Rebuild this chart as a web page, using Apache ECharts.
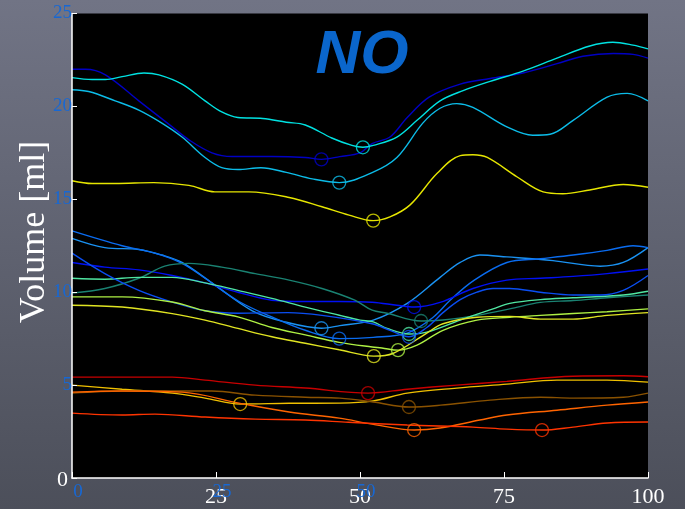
<!DOCTYPE html>
<html>
<head>
<meta charset="utf-8">
<script src="https://cdn.jsdelivr.net/npm/echarts@6/dist/echarts.min.js"></script>
<style>
  html, body { margin: 0; padding: 0; background: #5c5f6c; }
  #chart { width: 685px; height: 509px; }
</style>
</head>
<body>
<div id="chart"></div>
<script>
// Volume curves (ml) over the normalised cycle (0–100 %), one [x, y] list per curve.
const xTicks = [0, 25, 50, 75, 100];
const yTicks = [0, 5, 10, 15, 20, 25];

const upperDarkBlue = [[0,22.0],[2.3,22.0],[5.8,21.7],[11.6,20.3],[17.4,18.9],[20.3,18.2],[24.3,17.5],[27.8,17.3],[34.7,17.3],[40.5,17.25],[43.3,17.15],[46.5,17.3],[50,17.5],[52.1,18.0],[55.2,18.35],[58.2,19.4],[62,20.5],[67.4,21.2],[72.6,21.5],[78.3,21.8],[84.2,22.3],[88.7,22.7],[94,22.85],[97.4,22.8],[100,22.6]];
const upperCyan = [[0,21.55],[3.5,21.45],[5.8,21.45],[8.7,21.6],[12.5,21.8],[15.1,21.7],[19.1,21.2],[23.1,20.3],[26,19.7],[28.8,19.4],[33.1,19.35],[37.2,19.15],[40.5,19.0],[45.1,18.3],[48.6,17.9],[50.5,17.8],[52.3,17.9],[56.4,18.35],[59.9,19.25],[63.9,20.3],[67.9,20.85],[72.6,21.35],[78.3,21.9],[84.2,22.6],[89.9,23.25],[93.9,23.45],[97.4,23.3],[100,23.1]];
const upperSky = [[0,20.9],[2.9,20.8],[7.5,20.3],[11.6,19.8],[15.6,19.1],[19.1,18.35],[23.1,17.25],[26,16.7],[28.8,16.6],[32.8,16.7],[37.2,16.45],[41.7,16.1],[46.4,15.9],[52.2,16.45],[56.4,17.25],[60.9,19.1],[63.9,19.9],[66.8,20.15],[69.6,19.95],[75.5,18.9],[80,18.45],[83,18.5],[87,19.25],[92.9,20.5],[96.4,20.7],[100,20.3]];
const upperYellow = [[0,16.0],[3.5,15.85],[7.5,15.85],[14.2,15.9],[20.3,15.75],[24.8,15.4],[30.7,15.4],[37.7,15.1],[43.4,14.6],[48.1,14.15],[52.3,13.85],[55.2,14.05],[58.7,14.7],[63.4,16.4],[67.4,17.35],[69.6,17.4],[72.1,17.25],[77.3,16.2],[81.8,15.4],[85.2,15.3],[89.9,15.5],[95.7,15.8],[100,15.65]];

const midLightBlue = [[0,12.9],[5.7,12.4],[11.6,12.3],[15.6,12.0],[19.1,11.6],[24.3,10.5],[31.3,9.0],[37,8.4],[43.3,8.06],[46.5,8.2],[52.3,8.5],[58.2,9.4],[63.9,10.8],[67.4,11.6],[70.8,12.0],[75.5,11.9],[83.5,11.7],[91.7,11.4],[95.7,11.6],[100,12.4]];
const midAzure = [[0,13.3],[8.7,12.5],[14.4,12.1],[19.1,11.55],[23.1,10.75],[29,9.5],[34.7,8.67],[40.5,7.95],[46.4,7.5],[52.3,7.57],[58.2,7.8],[62.7,8.65],[65.6,9.55],[69.6,10.6],[75.5,11.6],[81.3,11.8],[87,12.0],[92.9,12.25],[97.4,12.5],[100,12.4]];
const midBlue = [[0,11.6],[5.7,11.35],[11.6,11.2],[17.4,10.9],[23.1,10.5],[28.8,10.0],[34.7,9.57],[40.5,9.5],[46.4,9.5],[52.1,9.46],[56.4,9.3],[59.4,9.2],[63.9,9.45],[69.6,10.2],[75.5,10.65],[81.3,10.75],[87,10.85],[92.9,11.0],[100,11.25]];
const midTeal = [[0,9.95],[5.7,10.2],[11.6,10.75],[16.1,11.4],[20.3,11.55],[26,11.35],[31.8,11.0],[37.7,10.65],[43.4,10.2],[49.1,9.57],[52.1,9.03],[54.7,8.87],[60.6,8.45],[64.4,8.5],[70.3,8.75],[76,9.1],[81.3,9.45],[87,9.55],[92.9,9.7],[100,9.85]];
const midMint = [[0,10.75],[5.7,10.7],[11.6,10.8],[17.4,10.8],[23.1,10.5],[28.8,10.1],[34.7,9.67],[40.5,9.2],[46.4,8.76],[50,8.5],[52.3,8.4],[54.7,8.05],[58.5,7.75],[61.6,7.85],[67.4,8.5],[73.1,9.1],[76,9.4],[81.3,9.6],[87,9.7],[95.7,9.85],[100,10.05]];
const midRoyal = [[0,12.1],[5.7,11.0],[11.6,10.1],[17.4,9.47],[23.1,9.0],[28.8,8.87],[37.5,8.9],[43.4,8.75],[52.1,8.3],[55.2,7.95],[58.5,7.6],[61.6,8.1],[64.4,8.9],[67.4,9.6],[70.3,10.0],[73.1,10.2],[76,10.2],[81.3,10.0],[87,9.85],[91.7,9.85],[95.7,10.1],[100,10.9]];
const midLime = [[0,9.75],[8.7,9.75],[17.4,9.47],[23.1,9.0],[28.8,8.67],[34.7,8.1],[40.5,7.7],[46.4,7.3],[52.1,7.05],[53.8,7.0],[56.6,6.88],[59.9,7.15],[64.4,7.95],[70.3,8.5],[76,8.65],[81.3,8.75],[87,8.85],[92.9,8.95],[100,9.1]];
const midYellow = [[0,9.3],[8.7,9.2],[17.4,8.85],[23.1,8.5],[28.8,8.05],[34.7,7.6],[40.5,7.25],[46.4,6.9],[52.4,6.56],[55.7,6.7],[61.6,7.8],[64.4,8.3],[70.3,8.65],[76,8.7],[81.3,8.55],[87,8.55],[92.9,8.75],[100,8.9]];

const lowRed = [[0,5.43],[8.7,5.43],[17.4,5.43],[23.1,5.27],[31.8,5.0],[40.5,4.84],[51.4,4.57],[58.2,4.78],[66.8,5.0],[75.5,5.2],[87,5.48],[95.7,5.5],[100,5.45]];
const lowGold = [[0,5.0],[8.7,4.78],[17.4,4.57],[23.1,4.3],[29.2,3.98],[37.7,4.02],[46.5,4.03],[52.3,4.15],[58.2,4.57],[66.8,4.84],[75.5,5.05],[84.2,5.27],[92.9,5.27],[100,5.16]];
const lowBrown = [[0,4.57],[8.7,4.68],[17.4,4.68],[24.3,4.68],[31.8,4.46],[40.5,4.35],[46.5,4.3],[52.3,4.09],[58.5,3.82],[64,3.92],[72.6,4.19],[81.3,4.35],[87,4.3],[95.7,4.35],[100,4.57]];
const lowOrange = [[0,4.62],[8.7,4.68],[19.1,4.62],[29,4.03],[37.7,3.55],[46.4,3.22],[52.1,2.9],[59.4,2.58],[63.9,2.69],[70.8,3.12],[75.5,3.39],[84.2,3.65],[92.9,3.92],[100,4.09]];
const lowVermilion = [[0,3.49],[8.7,3.39],[14.4,3.44],[23.1,3.28],[31.8,3.17],[40.5,3.12],[48,3.0],[58.2,2.85],[69.6,2.74],[75.5,2.63],[81.6,2.58],[87,2.74],[92.9,2.96],[100,3.01]];

const curves = [
  { data: upperDarkBlue, color: '#0000c4' },
  { data: upperCyan, color: '#00e2e2' },
  { data: upperSky, color: '#0cbce8' },
  { data: upperYellow, color: '#e6e600' },
  { data: midLightBlue, color: '#1a92f2' },
  { data: midAzure, color: '#0a6cf0' },
  { data: midBlue, color: '#0010f4' },
  { data: midTeal, color: '#1a8272' },
  { data: midMint, color: '#50e6a2' },
  { data: midRoyal, color: '#0a4ef2' },
  { data: midLime, color: '#aef044' },
  { data: midYellow, color: '#e0e422' },
  { data: lowRed, color: '#c80000' },
  { data: lowGold, color: '#f0c000' },
  { data: lowBrown, color: '#8a5200' },
  { data: lowOrange, color: '#ff6400' },
  { data: lowVermilion, color: '#ff3400' }
];

const serif = '"Liberation Serif", "Times New Roman", serif';
const labelBlue = '#1768d4';

// Lowest point of a curve, marked with an open circle.
function minimumOf(points) {
  let best = points[0];
  for (const p of points) if (p[1] < best[1]) best = p;
  return best;
}

const series = [];
curves.forEach(c => {
  series.push({
    type: 'line',
    data: c.data,
    smooth: 0.35,
    showSymbol: false,
    silent: true,
    lineStyle: { color: c.color, width: 1.4 },
    z: 2
  });
});
curves.forEach(c => {
  series.push({
    type: 'scatter',
    data: [minimumOf(c.data)],
    symbol: 'circle',
    symbolSize: 13,
    silent: true,
    itemStyle: { color: 'rgba(0,0,0,0)', borderColor: c.color, borderWidth: 1.3 },
    z: 3
  });
});

const chart = echarts.init(document.getElementById('chart'), null, { renderer: 'canvas' });
chart.setOption({
  animation: false,
  backgroundColor: {
    type: 'linear', x: 0, y: 0, x2: 0, y2: 1,
    colorStops: [
      { offset: 0, color: '#717485' },
      { offset: 1, color: '#4c4f5a' }
    ]
  },
  grid: {
    left: 72, right: 37, top: 13.5, bottom: 31,
    show: true, backgroundColor: '#000000', borderWidth: 0
  },
  xAxis: [
    {
      type: 'value', min: xTicks[0], max: xTicks[xTicks.length - 1], interval: 25,
      position: 'bottom',
      axisLine: { show: true, onZero: false, lineStyle: { color: '#ffffff', width: 1.5 } },
      axisTick: { show: true, inside: true, length: 6, lineStyle: { color: '#ffffff' } },
      splitLine: { show: false },
      axisLabel: {
        color: '#ffffff', fontFamily: serif, fontSize: 22, margin: 8,
        formatter: v => (v === 0 ? '' : String(v))
      },
      z: 4
    },
    {
      type: 'value', min: xTicks[0], max: xTicks[xTicks.length - 1], interval: 25,
      position: 'bottom',
      axisLine: { show: false },
      axisTick: { show: false },
      splitLine: { show: false },
      axisLabel: {
        color: labelBlue, fontFamily: serif, fontSize: 19, margin: 5,
        padding: [0, 0, 0, 12],
        formatter: v => (v <= 50 ? String(v) : '')
      },
      z: 5
    }
  ],
  yAxis: {
    type: 'value', min: yTicks[0], max: yTicks[yTicks.length - 1], interval: 5,
    axisLine: { show: true, onZero: false, lineStyle: { color: '#ffffff', width: 1.5 } },
    axisTick: { show: true, inside: true, length: 5, lineStyle: { color: '#ffffff' } },
    splitLine: { show: false },
    axisLabel: {
      margin: 0,
      formatter: v => (v === 0 ? '{w|0}' : '{b|' + v + '}'),
      rich: {
        w: { color: '#ffffff', fontFamily: serif, fontSize: 22, padding: [4, 4, 0, 0] },
        b: { color: labelBlue, fontFamily: serif, fontSize: 19 }
      }
    },
    z: 4
  },
  graphic: [
    {
      type: 'text', x: 35, y: 232, rotation: Math.PI / 2, silent: true,
      style: {
        text: 'Volume [ml]', fill: '#ffffff', font: '36px ' + serif,
        textAlign: 'center', textVerticalAlign: 'middle'
      },
      z: 10
    },
    {
      type: 'text', x: 362, y: 56, silent: true,
      style: {
        text: 'NO', fill: '#0a66cc',
        font: 'italic bold 62px "Liberation Sans", Arial, sans-serif',
        textAlign: 'center', textVerticalAlign: 'middle'
      },
      z: 10
    }
  ],
  series: series
});
</script>
</body>
</html>
